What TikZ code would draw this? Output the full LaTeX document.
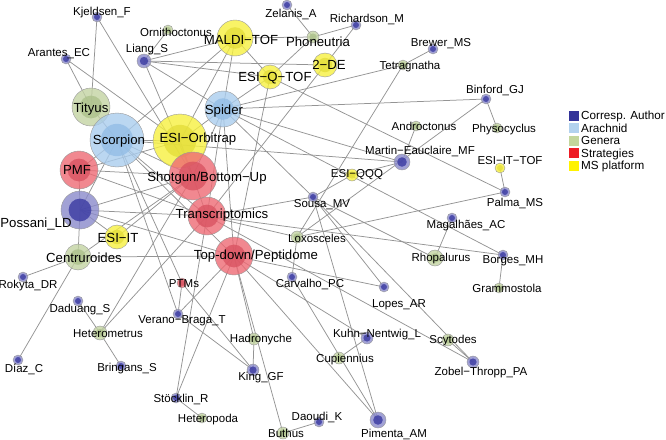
\documentclass[tikz,border=0pt]{standalone}
\usepackage{fontspec}
\setmainfont{Liberation Sans}
\pgfdeclarelayer{bg}
\pgfsetlayers{bg,main}
\definecolor{Ao}{HTML}{8A8ACB}\definecolor{Ai}{HTML}{3A3AA2}
\definecolor{Ro}{HTML}{AACDEE}\definecolor{Ri}{HTML}{94BEE6}
\definecolor{Go}{HTML}{C3D3A3}\definecolor{Gi}{HTML}{ADC28C}
\definecolor{So}{HTML}{EE6A74}\definecolor{Si}{HTML}{DA5462}
\definecolor{Mo}{HTML}{F6F040}\definecolor{Mi}{HTML}{E4DE3A}
\definecolor{LA}{HTML}{333399}\definecolor{LR}{HTML}{B2D2EE}
\definecolor{LG}{HTML}{C3D69C}\definecolor{LS}{HTML}{EE1C25}
\definecolor{LM}{HTML}{FFF200}
\newcommand\vn[5]{%
  \node[vtx, minimum size={2*#4}, fill=#5o] (#1) at (#2,#3) {};
  \fill[#5i, fill opacity=0.8] (#1.center) circle[radius={0.6*#4}];}
\begin{document}
\begin{tikzpicture}[x=1pt,y=-1pt,
  vtx/.style={circle, inner sep=0pt, draw=black!40, line width=0.4pt, fill opacity=0.8},
  lab/.style={font=\fontsize{11.5}{12}\selectfont, inner sep=0pt, anchor=base, yshift=-4.1pt},
  blab/.style={font=\fontsize{13.2}{14}\selectfont, inner sep=0pt, anchor=base, yshift=-4.7pt},
  legt/.style={font=\fontsize{11.7}{13}\selectfont, inner sep=0pt, anchor=base west, yshift=-4.2pt},
  legsq/.style={inner sep=0pt, minimum size=10pt},
  edge/.style={draw=black!42, line width=0.75pt}]
\useasboundingbox (0,0) rectangle (666,439);
% nodes
\vn{kjeldsen}{97}{17}{5}{A}
\vn{arantes}{66}{59}{5}{A}
\vn{ornitho}{168}{30}{5}{G}
\vn{liang}{144}{61}{7}{A}
\vn{maldi}{235}{38}{18}{M}
\vn{zelanis}{287}{5}{5}{A}
\vn{richardson}{356}{25}{5}{A}
\vn{phoneutria}{313}{37}{6}{G}
\vn{esiqtof}{270}{77}{12}{M}
\vn{twode}{325}{65}{12}{M}
\vn{brewer}{433}{49}{5}{A}
\vn{tetragnatha}{403}{65}{5}{G}
\vn{binford}{486}{99}{5}{A}
\vn{physo}{497}{128}{5}{G}
\vn{andro}{416}{126}{5}{G}
\vn{martin}{402}{162}{8}{A}
\vn{esiittof}{500}{168}{5}{M}
\vn{palma}{505}{192}{5}{A}
\vn{esiqqq}{352}{175}{6}{M}
\vn{sousa}{313}{197}{5}{A}
\vn{magalhaes}{452}{218}{5}{A}
\vn{rhopalurus}{435}{258}{8}{G}
\vn{borges}{503}{255}{5}{A}
\vn{grammostola}{499}{288}{5}{G}
\vn{loxosceles}{297}{237}{6}{G}
\vn{carvalho}{292}{277}{5}{A}
\vn{lopes}{384}{287}{5}{A}
\vn{kuhn}{367}{338}{6}{A}
\vn{cupiennius}{339}{358}{6}{G}
\vn{scytodes}{448}{340}{6}{G}
\vn{zobel}{473}{362}{6}{A}
\vn{pimenta}{378}{420}{8}{A}
\vn{daoudi}{319}{422}{5}{A}
\vn{buthus}{283}{433}{6}{G}
\vn{king}{253}{370}{6}{A}
\vn{hadronyche}{254}{339}{6}{G}
\vn{verano}{178}{314}{5}{A}
\vn{ptms}{182}{283}{5}{S}
\vn{heterometrus}{100}{333}{7}{G}
\vn{daduang}{78}{301}{5}{A}
\vn{bringans}{121}{366}{5}{A}
\vn{diaz}{18}{360}{5}{A}
\vn{rokyta}{23}{277}{5}{A}
\vn{stocklin}{176}{398}{5}{A}
\vn{heteropoda}{202}{418}{5}{G}
\vn{centruroides}{78}{257}{13}{G}
\vn{esiit}{117}{237}{12}{M}
\vn{possani}{80}{210}{19}{A}
\vn{pmf}{79}{170}{19}{S}
\vn{tityus}{91}{107}{19}{G}
\vn{scorpion}{117}{140}{27}{R}
\vn{esiorbi}{180}{141}{27}{M}
\vn{spider}{223}{109}{18}{R}
\vn{shotgun}{193}{176}{24}{S}
\vn{transcr}{207}{216}{19}{S}
\vn{topdown}{234}{256}{19}{S}
% edges
\begin{pgfonlayer}{bg}
\foreach \a/\b in {kjeldsen/tityus, kjeldsen/shotgun, arantes/tityus, arantes/esiorbi,
 liang/ornitho, liang/maldi, liang/twode, liang/esiqtof, liang/spider, liang/shotgun,
 zelanis/phoneutria, richardson/phoneutria, richardson/twode, phoneutria/maldi, phoneutria/esiqtof,
 maldi/spider, maldi/esiorbi, maldi/scorpion, maldi/esiqtof, esiqtof/spider, esiqtof/topdown, esiqtof/palma,
 twode/transcr, brewer/tetragnatha, tetragnatha/spider, tetragnatha/loxosceles,
 binford/physo, binford/spider, binford/loxosceles, andro/martin, martin/scorpion, martin/spider, martin/esiqqq,
 esiqqq/sousa, esiittof/palma, loxosceles/palma, sousa/spider, sousa/transcr, sousa/rhopalurus, sousa/lopes, sousa/pimenta, sousa/zobel,
 magalhaes/rhopalurus, borges/grammostola, borges/transcr, borges/spider,
 loxosceles/transcr, loxosceles/carvalho, carvalho/pimenta, lopes/topdown,
 kuhn/cupiennius, kuhn/topdown, scytodes/zobel, transcr/zobel, pimenta/topdown,
 daoudi/buthus, buthus/topdown, king/hadronyche, king/ptms, verano/king, hadronyche/topdown,
 verano/ptms, verano/topdown, verano/scorpion, ptms/scorpion,
 heterometrus/daduang, heterometrus/bringans, heterometrus/shotgun, heterometrus/transcr,
 diaz/centruroides, rokyta/centruroides, centruroides/possani, centruroides/topdown, centruroides/shotgun,
 possani/pmf, possani/esiit, possani/scorpion, possani/shotgun, possani/transcr, possani/topdown,
 pmf/scorpion, pmf/shotgun, pmf/esiorbi, pmf/transcr,
 scorpion/tityus, scorpion/esiorbi, scorpion/shotgun, scorpion/transcr, scorpion/topdown,
 spider/shotgun, spider/transcr, spider/topdown, spider/esiorbi, esiorbi/shotgun, esiorbi/transcr,
 stocklin/heteropoda, stocklin/transcr, stocklin/topdown, esiit/shotgun}
 \draw[edge] (\a.center) -- (\b.center);
\end{pgfonlayer}
% labels
\node[lab] (l1) at (102,11) {Kjeldsen\_F};
\node[lab] (l2) at (59,52) {Arantes\_EC};
\node[lab] (l3) at (176,32) {Ornithoctonus};
\node[lab] (l4) at (147,48) {Liang\_S};
\node[blab] (l5) at (241,40) {MALDI−TOF};
\node[lab] (l6) at (291,13) {Zelanis\_A};
\node[lab] (l7) at (367,18) {Richardson\_M};
\node[blab] (l8) at (318,42) {Phoneutria};
\node[blab] (l9) at (275,77) {ESI−Q−TOF};
\node[blab] (l10) at (329,65) {2−DE};
\node[lab] (l11) at (441,42) {Brewer\_MS};
\node[lab] (l12) at (410,65) {Tetragnatha};
\node[lab] (l13) at (495,89) {Binford\_GJ};
\node[lab] (l14) at (504,128) {Physocyclus};
\node[lab] (l15) at (424,126) {Androctonus};
\node[lab] (l16) at (420,150) {Martin−Eauclaire\_MF};
\node[lab] (l17) at (510,160) {ESI−IT−TOF};
\node[lab] (l18) at (515,202) {Palma\_MS};
\node[lab] (l19) at (357,173) {ESI−QQQ};
\node[lab] (l20) at (322,203) {Sousa\_MV};
\node[lab] (l21) at (466,224) {Magalhães\_AC};
\node[lab] (l22) at (441,257) {Rhopalurus};
\node[lab] (l23) at (513,259) {Borges\_MH};
\node[lab] (l24) at (507,288) {Grammostola};
\node[lab] (l25) at (317,238) {Loxosceles};
\node[lab] (l26) at (310,283) {Carvalho\_PC};
\node[lab] (l27) at (399,303) {Lopes\_AR};
\node[lab] (l28) at (377,333) {Kuhn−Nentwig\_L};
\node[lab] (l29) at (345,358) {Cupiennius};
\node[lab] (l30) at (453,339) {Scytodes};
\node[lab] (l31) at (481,371) {Zobel−Thropp\_PA};
\node[lab] (l32) at (394,433) {Pimenta\_AM};
\node[lab] (l33) at (317,416) {Daoudi\_K};
\node[lab] (l34) at (286,433) {Buthus};
\node[lab] (l35) at (261,376) {King\_GF};
\node[lab] (l36) at (261,338) {Hadronyche};
\node[lab] (l37) at (182,319) {Verano−Braga\_T};
\node[lab] (l38) at (184,283) {PTMs};
\node[lab] (l39) at (108,333) {Heterometrus};
\node[lab] (l40) at (80,308) {Daduang\_S};
\node[lab] (l41) at (127,367) {Bringans\_S};
\node[lab] (l42) at (24,368) {Díaz\_C};
\node[lab] (l43) at (28,284) {Rokyta\_DR};
\node[lab] (l44) at (181,398) {Stöcklin\_R};
\node[lab] (l45) at (208,418) {Heteropoda};
\node[blab] (l46) at (84,258) {Centruroides};
\node[blab] (l47) at (118,238) {ESI−IT};
\node[blab] (l48) at (36,223) {Possani\_LD};
\node[blab] (l49) at (77,170) {PMF};
\node[blab] (l50) at (91,108) {Tityus};
\node[blab] (l51) at (119,140) {Scorpion};
\node[blab] (l52) at (198,138) {ESI−Orbitrap};
\node[blab] (l53) at (224,110) {Spider};
\node[blab] (l54) at (207,177) {Shotgun/Bottom−Up};
\node[blab] (l55) at (222,214) {Transcriptomics};
\node[blab] (l56) at (256,255) {Top-down/Peptidome};
% legend
\node[legsq, fill=LA] (q1) at (574,115.5) {};
\node[legsq, fill=LR] (q2) at (574,128) {};
\node[legsq, fill=LG] (q3) at (574,140.5) {};
\node[legsq, fill=LS] (q4) at (574,153) {};
\node[legsq, fill=LM] (q5) at (574,165.5) {};
\node[legt] (t1) at (581,115.5) {Corresp. Author};
\node[legt] (t2) at (581,128) {Arachnid};
\node[legt] (t3) at (581,140.5) {Genera};
\node[legt] (t4) at (581,153) {Strategies};
\node[legt] (t5) at (581,165.5) {MS platform};
\end{tikzpicture}
\end{document}
